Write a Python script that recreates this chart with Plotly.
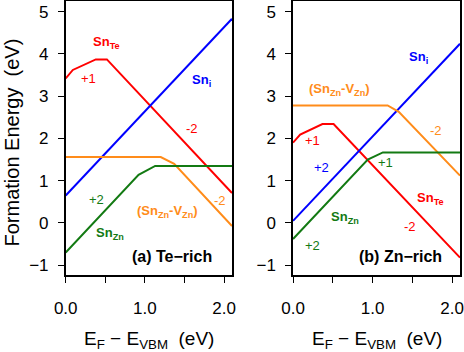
import plotly.graph_objects as go

# ---- data (E_F - E_VBM breakpoints, formation energies in eV) ----
# Panel (a) Te-rich
a_snte_x = [0.0, 0.09, 0.38, 0.52, 2.1]
a_snte_y = [3.42, 3.62, 3.87, 3.87, 0.71]
a_sni_x = [0.0, 2.1]
a_sni_y = [0.65, 4.83]
a_cplx_x = [0.0, 1.20, 1.37, 2.1]
a_cplx_y = [1.56, 1.56, 1.40, -0.07]
a_snzn_x = [0.0, 0.92, 1.13, 2.1]
a_snzn_y = [-0.70, 1.14, 1.35, 1.35]

# Panel (b) Zn-rich
b_snte_x = [0.0, 0.09, 0.37, 0.51, 2.1]
b_snte_y = [1.90, 2.09, 2.34, 2.34, -0.82]
b_sni_x = [0.0, 2.1]
b_sni_y = [0.05, 4.24]
b_cplx_x = [0.0, 1.19, 1.33, 2.1]
b_cplx_y = [2.78, 2.78, 2.63, 1.12]
b_snzn_x = [0.0, 0.94, 1.13, 2.1]
b_snzn_y = [-0.38, 1.50, 1.67, 1.67]

x_ticks = [0.0, 0.5, 1.0, 1.5, 2.0]
x_ticktext = ["0.0", "", "1.0", "", "2.0"]
y_ticks = [-1, 0, 1, 2, 3, 4, 5]
y_ticktext = ["\u22121", "0", "1", "2", "3", "4", "5"]

RED = "#ff0000"
BLUE = "#0000ff"
ORANGE = "#ff8c1a"
GREEN = "#137a13"

# labels: (panel, x, y, text, color, bold, size)
labels = [
    ("a", 0.52, 4.27, "Sn<sub>Te</sub>", RED, True, 13),
    ("a", 0.29, 3.42, "+1", RED, False, 13),
    ("a", 1.71, 3.38, "Sn<sub>i</sub>", BLUE, True, 13),
    ("a", 1.59, 2.23, "-2", RED, False, 13),
    ("a", 0.39, 0.55, "+2", GREEN, False, 13),
    ("a", 1.29, 0.28, "(Sn<sub>Zn</sub>-V<sub>Zn</sub>)", ORANGE, True, 13),
    ("a", 1.95, 0.53, "-2", ORANGE, False, 13),
    ("a", 0.56, -0.25, "Sn<sub>Zn</sub>", GREEN, True, 13),
    ("a", 1.34, -0.79, "(a) Te\u2212rich", "black", True, 16),
    ("b", 1.58, 3.92, "Sn<sub>i</sub>", BLUE, True, 13),
    ("b", 0.58, 3.15, "(Sn<sub>Zn</sub>-V<sub>Zn</sub>)", ORANGE, True, 13),
    ("b", 1.80, 2.19, "-2", ORANGE, False, 13),
    ("b", 0.24, 1.95, "+1", RED, False, 13),
    ("b", 0.36, 1.32, "+2", BLUE, False, 13),
    ("b", 1.16, 1.42, "+1", GREEN, False, 13),
    ("b", 1.73, 0.59, "Sn<sub>Te</sub>", RED, True, 13),
    ("b", 0.66, 0.12, "Sn<sub>Zn</sub>", GREEN, True, 13),
    ("b", 1.47, -0.09, "-2", RED, False, 13),
    ("b", 0.24, -0.53, "+2", GREEN, False, 13),
    ("b", 1.35, -0.79, "(b) Zn\u2212rich", "black", True, 16),
]

FONT = "Liberation Sans, Arial, Helvetica, sans-serif"

fig = go.Figure()
series = [
    ("a", a_snte_x, a_snte_y, RED), ("a", a_sni_x, a_sni_y, BLUE),
    ("a", a_cplx_x, a_cplx_y, ORANGE), ("a", a_snzn_x, a_snzn_y, GREEN),
    ("b", b_snte_x, b_snte_y, RED), ("b", b_sni_x, b_sni_y, BLUE),
    ("b", b_cplx_x, b_cplx_y, ORANGE), ("b", b_snzn_x, b_snzn_y, GREEN),
]
for p, xs, ys, c in series:
    fig.add_trace(go.Scatter(
        x=xs, y=ys, mode="lines", line=dict(color=c, width=2),
        xaxis="x" if p == "a" else "x2", yaxis="y" if p == "a" else "y2",
        showlegend=False, hoverinfo="skip", cliponaxis=True))

for p, x, y, t, c, b, s in labels:
    fig.add_annotation(
        x=x, y=y, xref="x" if p == "a" else "x2", yref="y" if p == "a" else "y2",
        text=f"<b>{t}</b>" if b else t, showarrow=False,
        font=dict(color=c, size=s, family=FONT))

axis_common = dict(
    showline=True, linecolor="black", linewidth=1.5, mirror=True,
    ticks="outside", ticklen=6, tickwidth=1.2, tickcolor="black", automargin=False,
    showgrid=False, zeroline=False, tickfont=dict(size=17, color="black", family=FONT),
)
xa = dict(axis_common, range=[0, 2.1], tickvals=x_ticks, ticktext=x_ticktext,
          ticklen=7, ticklabelstandoff=10)
ya = dict(axis_common, range=[-1.22, 5.25], tickvals=y_ticks, ticktext=y_ticktext,
          ticklabelstandoff=6)

fig.update_layout(
    width=464, height=352, margin=dict(l=0, r=0, t=0, b=0, autoexpand=False),
    paper_bgcolor="white", plot_bgcolor="white",
    xaxis=dict(xa, domain=[0.1416, 0.5], anchor="y"),
    yaxis=dict(ya, domain=[0.22, 0.997], anchor="x"),
    xaxis2=dict(xa, domain=[0.6315, 0.9914], anchor="y2"),
    yaxis2=dict(ya, domain=[0.22, 0.997], anchor="x2"),
)

xt = "E<sub>F</sub> \u2212 E<sub>VBM</sub>&nbsp;&nbsp;(eV)"
for cx in [(0.1416 + 0.5) / 2, (0.6315 + 0.9914) / 2]:
    fig.add_annotation(x=cx, y=12 / 352, xref="paper", yref="paper",
                       text=xt, showarrow=False, xanchor="center", yanchor="middle",
                       font=dict(size=19, color="black", family=FONT))
fig.add_annotation(x=11.5 / 464, y=1 - 143 / 352, xref="paper", yref="paper",
                   text="Formation Energy&nbsp;&nbsp;(eV)", textangle=-90, showarrow=False,
                   xanchor="center", yanchor="middle",
                   font=dict(size=20, color="black", family=FONT))

fig.write_html("out.html", post_script="document.body.style.margin='0';",
               config={"displayModeBar": False})
